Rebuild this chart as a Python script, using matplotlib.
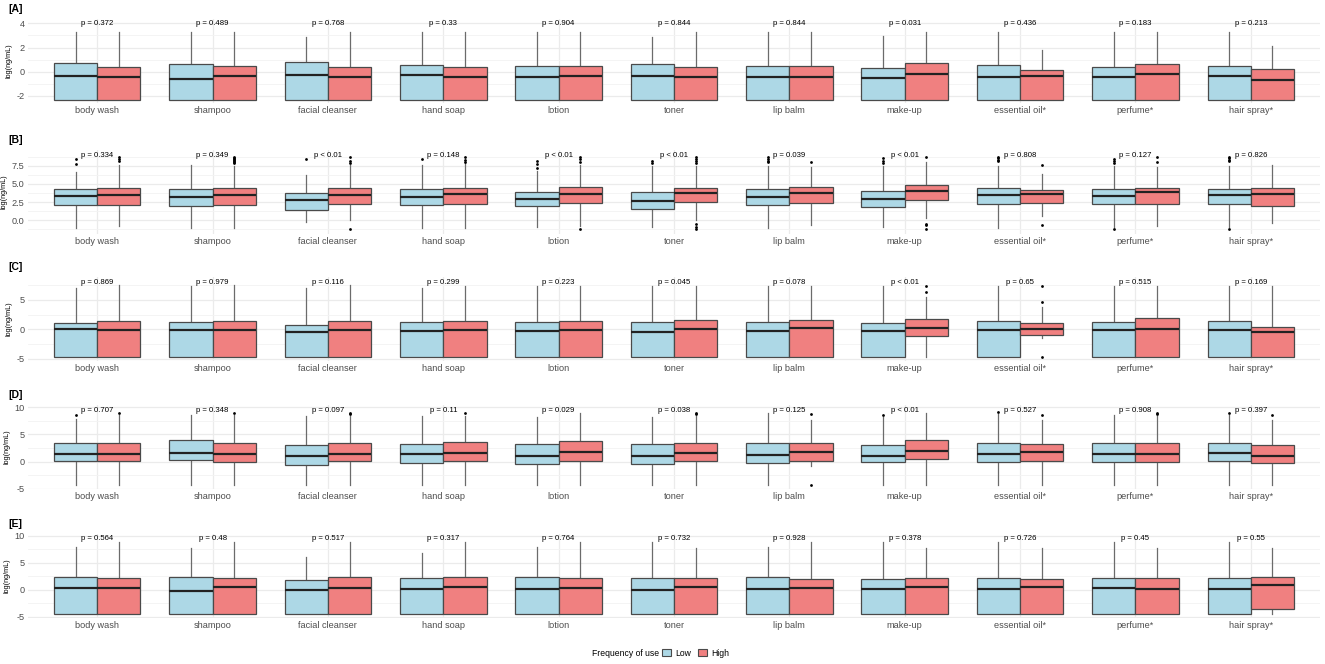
import matplotlib
matplotlib.use("Agg")
from matplotlib import pyplot as plt
from matplotlib.patches import Patch
from matplotlib.ticker import MultipleLocator, FixedLocator

plt.rcParams['font.family'] = ['Liberation Sans', 'DejaVu Sans']
plt.rcParams['axes.unicode_minus'] = False

categories = ["body wash", "shampoo", "facial cleanser", "hand soap", "lotion", "toner",
              "lip balm", "make-up", "essential oil*", "perfume*", "hair spray*"]
panel_names = ["[A]", "[B]", "[C]", "[D]", "[E]"]
groups = ["Low", "High"]

# box stats: (whisker low, q1, median, q3, whisker high)
A_low = [(-2.34, -2.34, -0.33, 0.69, 3.25), (-2.34, -2.34, -0.58, 0.60, 3.30),
         (-2.34, -2.34, -0.30, 0.77, 2.90), (-2.34, -2.34, -0.30, 0.55, 3.30),
         (-2.34, -2.34, -0.41, 0.50, 3.25), (-2.34, -2.34, -0.33, 0.60, 2.90),
         (-2.34, -2.34, -0.41, 0.44, 3.25), (-2.34, -2.34, -0.50, 0.28, 2.92),
         (-2.34, -2.34, -0.41, 0.52, 3.30), (-2.34, -2.34, -0.47, 0.41, 3.30),
         (-2.34, -2.34, -0.36, 0.50, 3.30)]
A_high = [(-2.34, -2.34, -0.41, 0.41, 3.30), (-2.34, -2.34, -0.33, 0.44, 3.25),
          (-2.34, -2.34, -0.41, 0.41, 3.30), (-2.34, -2.34, -0.44, 0.36, 3.25),
          (-2.34, -2.34, -0.39, 0.44, 3.30), (-2.34, -2.34, -0.44, 0.41, 3.30),
          (-2.34, -2.34, -0.41, 0.47, 3.30), (-2.34, -2.34, -0.19, 0.72, 3.30),
          (-2.34, -2.34, -0.33, 0.17, 1.79), (-2.34, -2.34, -0.17, 0.60, 3.25),
          (-2.34, -2.34, -0.72, 0.22, 2.09)]

B_low = [(-1.10, 2.05, 3.33, 4.25, 6.62), (-1.00, 2.00, 3.15, 4.25, 7.60),
         (-0.18, 1.42, 2.83, 3.74, 6.26), (-1.00, 2.05, 3.15, 4.25, 7.60),
         (-0.96, 1.92, 2.88, 3.93, 6.80), (-0.96, 1.55, 2.69, 3.93, 7.40),
         (-1.05, 2.10, 3.24, 4.25, 7.50), (-0.96, 1.87, 2.92, 4.02, 7.50),
         (-1.05, 2.19, 3.42, 4.38, 7.50), (-0.90, 2.19, 3.29, 4.25, 7.40),
         (-0.96, 2.19, 3.42, 4.34, 7.50)]
B_high = [(-0.73, 2.15, 3.47, 4.38, 7.60), (-1.10, 2.15, 3.42, 4.38, 7.50),
          (0.10, 2.19, 3.52, 4.43, 7.58), (-1.10, 2.24, 3.56, 4.38, 7.80),
          (-0.73, 2.37, 3.65, 4.52, 7.60), (0.05, 2.51, 3.74, 4.47, 7.44),
          (-0.64, 2.42, 3.70, 4.52, 7.35), (0.27, 2.78, 3.97, 4.89, 7.95),
          (0.55, 2.37, 3.60, 4.20, 6.40), (-0.73, 2.19, 3.88, 4.47, 7.26),
          (-0.32, 2.00, 3.60, 4.47, 7.62)]
B_low_out = [[8.45, 7.67], [], [8.45], [8.45], [8.2, 7.7, 7.2], [8.2, 7.85],
             [8.7, 8.45, 8.2, 7.95], [8.5, 8.2, 7.9], [8.7, 8.5, 8.3, 8.1],
             [8.45, 8.1, 7.8, -1.14], [8.7, 8.5, 8.3, 8.1, -1.14]]
B_high_out = [[8.7, 8.4, 8.1], [8.7, 8.55, 8.4, 8.25, 8.1, 7.95, 7.8], [8.7, 8.2, 7.9, -1.14],
              [8.7, 8.25, 7.95], [8.7, 8.35, 7.95, -1.14], [8.7, 8.45, 8.2, 7.9, -0.5, -0.87, -1.19],
              [7.95], [8.7, -0.5, -0.7, -1.14], [7.62, -0.68], [8.7, 7.95], []]

C_low = [(-4.77, -4.77, 0.00, 1.14, 7.00), (-4.77, -4.77, -0.10, 1.30, 7.45),
         (-4.77, -4.77, -0.50, 0.74, 7.00), (-4.77, -4.77, -0.23, 1.30, 7.00),
         (-4.77, -4.77, -0.34, 1.30, 7.44), (-4.77, -4.77, -0.51, 1.19, 7.44),
         (-4.77, -4.77, -0.23, 1.19, 7.44), (-4.77, -4.77, -0.28, 1.14, 7.44),
         (-4.77, -4.77, -0.11, 1.42, 7.44), (-4.77, -4.77, -0.11, 1.30, 7.44),
         (-4.77, -4.77, -0.05, 1.42, 7.44)]
C_high = [(-4.77, -4.77, -0.17, 1.36, 7.60), (-4.77, -4.77, -0.10, 1.36, 7.60),
          (-4.77, -4.77, -0.05, 1.48, 7.60), (-4.77, -4.77, -0.05, 1.42, 7.44),
          (-4.77, -4.77, -0.11, 1.42, 7.44), (-4.77, -4.77, 0.06, 1.53, 7.44),
          (-4.77, -4.77, 0.17, 1.53, 7.44), (-4.77, -1.14, 0.28, 1.76, 5.57),
          (-1.50, -1.02, 0.06, 1.14, 3.86), (-4.77, -4.77, 0.00, 1.88, 7.44),
          (-4.77, -4.77, -0.51, 0.45, 7.44)]
C_high_out = [[], [], [], [], [], [], [], [7.44, 6.42], [7.44, 4.6, -4.77], [], []]

D_low = [(-4.33, 0.12, 1.46, 3.35, 7.74), (-4.33, 0.30, 1.65, 3.90, 8.48),
         (-4.33, -0.67, 1.10, 3.05, 8.35), (-4.33, -0.24, 1.34, 3.29, 8.35),
         (-4.33, -0.49, 1.10, 3.17, 8.17), (-4.33, -0.50, 1.10, 3.29, 8.10),
         (-4.33, -0.24, 1.28, 3.35, 8.84), (-4.33, -0.05, 1.10, 3.10, 8.10),
         (-4.33, 0.00, 1.46, 3.48, 8.80), (-4.33, 0.00, 1.46, 3.41, 8.48),
         (-4.33, 0.12, 1.59, 3.48, 8.48)]
D_high = [(-4.33, 0.12, 1.46, 3.41, 8.60), (-4.33, -0.06, 1.34, 3.35, 8.48),
          (-4.33, 0.12, 1.46, 3.48, 8.35), (-4.33, 0.18, 1.65, 3.60, 8.35),
          (-4.33, 0.18, 1.71, 3.78, 8.96), (-4.33, 0.06, 1.65, 3.48, 8.35),
          (-0.80, 0.18, 1.71, 3.41, 7.62), (-4.33, 0.55, 2.00, 3.96, 8.84),
          (-4.33, 0.18, 1.71, 3.23, 7.62), (-4.33, 0.00, 1.46, 3.41, 8.35),
          (-4.33, -0.30, 1.10, 3.10, 7.62)]
D_low_out = [[8.48], [], [], [], [], [], [], [8.48], [9.0], [], [8.96]]
D_high_out = [[8.96], [8.96], [8.96, 8.7], [8.96], [], [8.96, 8.7], [8.66, -4.3], [],
              [8.6], [8.96, 8.7], [8.6]]

E_low = [(-4.44, -4.44, 0.37, 2.47, 8.02), (-4.44, -4.44, -0.12, 2.35, 7.72),
         (-4.44, -4.44, 0.06, 1.91, 6.17), (-4.44, -4.44, 0.25, 2.22, 6.79),
         (-4.44, -4.44, 0.25, 2.47, 8.02), (-4.44, -4.44, -0.06, 2.28, 8.95),
         (-4.44, -4.44, 0.25, 2.35, 8.02), (-4.44, -4.44, 0.25, 2.10, 8.95),
         (-4.44, -4.44, 0.25, 2.28, 8.95), (-4.44, -4.44, 0.43, 2.22, 8.95),
         (-4.44, -4.44, 0.25, 2.22, 8.95)]
E_high = [(-4.44, -4.44, 0.31, 2.16, 8.95), (-4.44, -4.44, 0.49, 2.22, 8.95),
          (-4.44, -4.44, 0.43, 2.35, 8.95), (-4.44, -4.44, 0.56, 2.35, 8.95),
          (-4.44, -4.44, 0.43, 2.22, 8.95), (-4.44, -4.44, 0.49, 2.28, 7.72),
          (-4.44, -4.44, 0.43, 2.04, 8.95), (-4.44, -4.44, 0.62, 2.28, 7.72),
          (-4.44, -4.44, 0.56, 1.98, 7.72), (-4.44, -4.44, 0.25, 2.22, 7.72),
          (-4.44, -3.52, 0.86, 2.35, 7.72)]

A_p = ["0.372", "0.489", "0.768", "0.33", "0.904", "0.844", "0.844", "0.031", "0.436", "0.183", "0.213"]
B_p = ["0.334", "0.349", "< 0.01", "0.148", "< 0.01", "< 0.01", "0.039", "< 0.01", "0.808", "0.127", "0.826"]
C_p = ["0.869", "0.979", "0.116", "0.299", "0.223", "0.045", "0.078", "< 0.01", "0.65", "0.515", "0.169"]
D_p = ["0.707", "0.348", "0.097", "0.11", "0.029", "0.038", "0.125", "< 0.01", "0.527", "0.908", "0.397"]
E_p = ["0.564", "0.48", "0.517", "0.317", "0.764", "0.732", "0.928", "0.378", "0.726", "0.45", "0.55"]

empty = [[] for _ in categories]
panel_data = [
    (A_low, A_high, empty, empty, A_p),
    (B_low, B_high, B_low_out, B_high_out, B_p),
    (C_low, C_high, empty, C_high_out, C_p),
    (D_low, D_high, D_low_out, D_high_out, D_p),
    (E_low, E_high, empty, empty, E_p),
]

# axis setup per panel
y_ticks = [[-2, 0, 2, 4], [0, 2.5, 5, 7.5], [-5, 0, 5], [-5, 0, 5, 10], [-5, 0, 5, 10]]
y_fmt = ["{:g}", "{:.1f}", "{:g}", "{:g}", "{:g}"]
y_lims = [(-2.59, 4.36), (-1.89, 9.65), (-5.40, 8.91), (-5.0, 10.37), (-5.19, 10.37)]
label_y = [3.95, 8.95, 7.9, 9.3, 9.45]
panel_tops = [19, 150, 277, 405, 534]

W, H = 1325, 664
fig = plt.figure(figsize=(W / 100, H / 100), dpi=100)
fill = {"Low": "#ADD8E6", "High": "#F08080"}
grid_c = "#ebebeb"

def make_stats(rows, outs):
    res = []
    for (lo, q1, med, q3, hi), fl in zip(rows, outs):
        res.append(dict(whislo=lo, q1=q1, med=med, q3=q3, whishi=hi, fliers=fl))
    return res

for k in range(5):
    low, high, low_out, high_out, pvals = panel_data[k]
    top = panel_tops[k]
    ax = fig.add_axes([28 / W, 1 - (top + 84) / H, 1292 / W, 84 / H])
    for s in ax.spines.values():
        s.set_visible(False)
    n = len(categories)
    xs = list(range(1, n + 1))
    for grp, rows, outs, off in [("Low", low, low_out, -0.1875), ("High", high, high_out, 0.1875)]:
        b = ax.bxp(make_stats(rows, outs), positions=[x + off for x in xs], widths=0.375,
                   patch_artist=True, showcaps=False,
                   boxprops=dict(facecolor=fill[grp], edgecolor="#4a4a4a", linewidth=0.9),
                   medianprops=dict(color="#222222", linewidth=1.6),
                   whiskerprops=dict(color="#6b6b6b", linewidth=0.9),
                   flierprops=dict(marker="o", markersize=2.0, markerfacecolor="black",
                                   markeredgecolor="black", markeredgewidth=0))
        for w in b["whiskers"]:
            w.set_zorder(1)
    for x, p in zip(xs, pvals):
        txt = "p < 0.01" if p.startswith("<") else "p = " + p
        ax.text(x, label_y[k], txt, ha="center", va="center", fontsize=5.6, color="black")
    ax.set_xlim(0.4, n + 0.6)
    ax.set_ylim(*y_lims[k])
    ax.set_xticks(xs)
    ax.set_xticklabels(categories, fontsize=6.6, color="#4d4d4d")
    ax.yaxis.set_major_locator(FixedLocator(y_ticks[k]))
    ax.set_yticklabels([y_fmt[k].format(t) for t in y_ticks[k]], fontsize=6.6, color="#4d4d4d")
    step = y_ticks[k][1] - y_ticks[k][0]
    ax.yaxis.set_minor_locator(MultipleLocator(step / 2))
    ax.tick_params(axis="both", which="both", length=0, pad=2.5)
    ax.grid(True, which="major", color=grid_c, linewidth=0.9, zorder=0)
    ax.grid(True, which="minor", axis="y", color="#f3f3f3", linewidth=0.6, zorder=0)
    ax.set_axisbelow(True)
    ax.set_ylabel("log(ng/mL)", fontsize=5.2, color="black", labelpad=3)
    fig.text(8 / W, 1 - (top - 10) / H, panel_names[k], fontsize=7.5, fontweight="bold",
             va="center", ha="left")

# legend at bottom
fig.text(659 / W, 1 - 653 / H, "Frequency of use", fontsize=6.2, ha="right", va="center")
handles = [Patch(facecolor=fill[g], edgecolor="#4a4a4a", linewidth=0.8, label=g) for g in groups]
fig.legend(handles=handles, loc="center left", bbox_to_anchor=(659 / W, 1 - 653 / H), ncol=2,
           frameon=False, fontsize=6.2, handlelength=1.0, handleheight=0.8,
           handletextpad=0.5, columnspacing=0.8, borderaxespad=0)

plt.savefig("out.png", dpi=100)
